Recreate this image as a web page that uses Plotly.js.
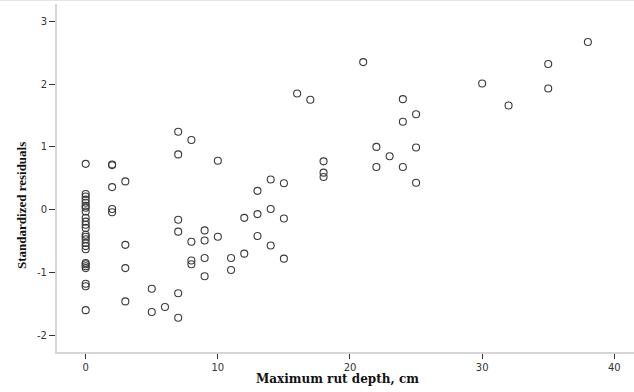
<!DOCTYPE html>
<html>
<head>
<meta charset="utf-8">
<script src="https://cdn.plot.ly/plotly-3.0.1.min.js"></script>
<style>
html,body{margin:0;padding:0;background:#fff;}
#chart{width:634px;height:392px;}
</style>
</head>
<body>
<div id="chart"></div>
<script>
// Maximum rut depth (cm) of each observation
const rutDepth = [
  0,0,0,0,0,0,0,0,0,0,0,0,0,0,0,0,0,0,0,0,0,0,0,0,0,
  2,2,2,2,2,
  3,3,3,3,
  5,5,
  6,
  7,7,7,7,7,7,
  8,8,8,8,
  9,9,9,9,
  10,10,
  11,11,
  12,12,
  13,13,13,
  14,14,14,
  15,15,15,
  16,
  17,
  18,18,18,
  21,
  22,22,
  23,
  24,24,24,
  25,25,25,
  30,
  32,
  35,35,
  38
];
// Standardized residual of each observation
const stdResidual = [
  0.73,0.25,0.21,0.16,0.11,0.06,0.03,-0.03,-0.13,-0.19,-0.24,-0.29,-0.40,-0.43,-0.47,-0.53,-0.58,-0.63,-0.85,-0.87,-0.90,-0.93,-1.18,-1.22,-1.60,
  0.72,0.71,0.36,0.01,-0.04,
  0.45,-0.56,-0.93,-1.46,
  -1.26,-1.63,
  -1.55,
  1.24,0.88,-0.16,-0.35,-1.33,-1.72,
  1.11,-0.51,-0.81,-0.87,
  -0.33,-0.49,-0.77,-1.06,
  0.78,-0.43,
  -0.77,-0.96,
  -0.13,-0.70,
  0.30,-0.07,-0.42,
  0.48,0.01,-0.57,
  0.42,-0.14,-0.78,
  1.85,
  1.75,
  0.77,0.59,0.52,
  2.35,
  1.00,0.68,
  0.85,
  1.76,1.40,0.68,
  1.52,0.99,0.43,
  2.01,
  1.66,
  2.32,1.93,
  2.67
];
const xTicks = [0,10,20,30,40];
const yTicks = [-2,-1,0,1,2,3];
const xTitle = 'Maximum rut depth, cm';
const yTitle = 'Standardized residuals';

const tickFont = {family:'DejaVu Sans, sans-serif', size:10, color:'#333'};
const xTitleFont = {family:'DejaVu Serif, serif', size:12, color:'#111', weight:'bold'};
const yTitleFont = {family:'Liberation Serif, Times New Roman, serif', size:13, color:'#111', weight:'bold'};

const trace = {
  type:'scatter', mode:'markers',
  x: rutDepth, y: stdResidual,
  marker:{symbol:'circle-open', size:7, color:'#3a3a3a', line:{width:1.1, color:'#3a3a3a'}},
  hoverinfo:'x+y'
};

const layout = {
  width:634, height:392,
  margin:{l:57, r:0, t:4, b:40},
  paper_bgcolor:'#fff', plot_bgcolor:'#fff',
  showlegend:false,
  xaxis:{
    range:[-2.17, 41.49], tickvals:xTicks, ticktext:xTicks.map(String),
    showgrid:false, zeroline:false,
    showline:true, linecolor:'#d6d6d6', linewidth:2,
    ticks:'outside', ticklen:5, tickwidth:1, tickcolor:'#333',
    tickfont:tickFont
  },
  yaxis:{
    range:[-2.266, 3.275], tickvals:yTicks, ticktext:yTicks.map(String),
    showgrid:false, zeroline:false,
    showline:true, linecolor:'#d6d6d6', linewidth:2,
    ticks:'outside', ticklen:6, tickwidth:1, tickcolor:'#333',
    tickfont:tickFont
  },
  annotations:[
    {text:'<b>'+xTitle+'</b>', xref:'paper', yref:'paper', x:0.487, y:-0.0776,
     xanchor:'center', yanchor:'middle', showarrow:false, font:xTitleFont},
    {text:'<b>'+yTitle+'</b>', xref:'paper', yref:'paper', x:-0.0624, y:0.4224,
     xanchor:'center', yanchor:'middle', textangle:-90, showarrow:false, font:yTitleFont}
  ],
  shapes:[
    {type:'line', xref:'paper', yref:'paper', x0:-0.1, x1:1, y0:1.0101, y1:1.0101,
     line:{color:'#e4e4e4', width:1}}
  ]
};

Plotly.newPlot('chart', [trace], layout, {displayModeBar:false, staticPlot:true});
</script>
</body>
</html>
